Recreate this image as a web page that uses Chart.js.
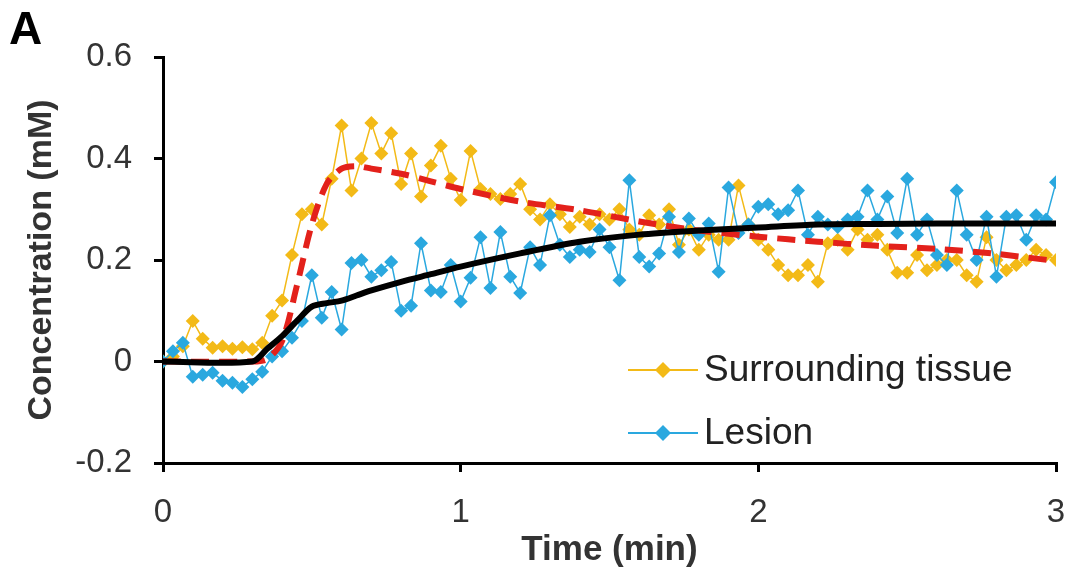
<!DOCTYPE html>
<html>
<head>
<meta charset="utf-8">
<script src="https://cdn.jsdelivr.net/npm/chart.js@4.4.1/dist/chart.umd.min.js"></script>
<style>
  body { margin: 0; background: #fff; }
  #wrap { position: relative; width: 1067px; height: 572px; }
</style>
</head>
<body>
<div id="wrap"><canvas id="concChart"></canvas></div>
<script>
// Sampling times (min), one sample every 2 s
const sampleTimes = Array.from({ length: 91 }, (_, i) => i / 30)

const surroundingValues = [
  0, 0.01, 0.03, 0.08, 0.045, 0.027, 0.03, 0.025, 0.028, 0.024,
  0.037, 0.09, 0.12, 0.21, 0.29, 0.30, 0.27, 0.36, 0.465, 0.337,
  0.40, 0.47, 0.41, 0.45, 0.35, 0.41, 0.325, 0.386, 0.425, 0.36,
  0.318, 0.415, 0.34, 0.33, 0.32, 0.33, 0.35, 0.30, 0.28, 0.31,
  0.29, 0.265, 0.285, 0.27, 0.29, 0.28, 0.30, 0.26, 0.25, 0.288,
  0.27, 0.30, 0.23, 0.26, 0.22, 0.25, 0.24, 0.24, 0.347, 0.27,
  0.24, 0.22, 0.19, 0.17, 0.17, 0.19, 0.157, 0.233, 0.24, 0.22,
  0.26, 0.24, 0.25, 0.22, 0.175, 0.175, 0.21, 0.18, 0.19, 0.20,
  0.20, 0.17, 0.157, 0.245, 0.20, 0.18, 0.19, 0.20, 0.22, 0.21,
  0.20
]
const lesionValues = [
  0, 0.02, 0.037, -0.03, -0.026, -0.022, -0.038, -0.042, -0.05, -0.035,
  -0.02, 0.01, 0.02, 0.047, 0.08, 0.17, 0.086, 0.137, 0.063, 0.194,
  0.20, 0.167, 0.18, 0.196, 0.10, 0.11, 0.233, 0.14, 0.137, 0.19,
  0.118, 0.165, 0.245, 0.145, 0.255, 0.167, 0.135, 0.225, 0.19, 0.288,
  0.23, 0.206, 0.22, 0.216, 0.26, 0.225, 0.16, 0.357, 0.206, 0.187,
  0.213, 0.285, 0.216, 0.282, 0.25, 0.272, 0.177, 0.343, 0.253, 0.27,
  0.305, 0.31, 0.29, 0.298, 0.337, 0.25, 0.285, 0.27, 0.265, 0.28,
  0.285, 0.337, 0.28, 0.325, 0.253, 0.36, 0.25, 0.28, 0.21, 0.19,
  0.337, 0.25, 0.20, 0.285, 0.167, 0.285, 0.288, 0.24, 0.288, 0.28,
  0.353
]

// Model fits
const fitTimes = [0, 0.3, 0.35, 0.4, 0.45, 0.5, 0.55, 0.6, 0.65, 0.7, 0.8, 0.9, 1.0, 1.2, 1.4, 1.6, 1.8, 2.0, 2.2, 2.4, 2.6, 2.8, 3.0]
const surroundingFit = [0, 0, 0.005, 0.04, 0.15, 0.27, 0.35, 0.38, 0.385, 0.38, 0.37, 0.355, 0.34, 0.315, 0.298, 0.276, 0.258, 0.246, 0.236, 0.228, 0.222, 0.212, 0.198]
const lesionFit = [0, 0, 0.025, 0.05, 0.08, 0.108, 0.115, 0.12, 0.13, 0.14, 0.157, 0.172, 0.187, 0.213, 0.236, 0.25, 0.258, 0.264, 0.27, 0.271, 0.272, 0.272, 0.272]

// Tick labels
const xTicks = [0, 1, 2, 3]
const yTicks = [-0.2, 0, 0.2, 0.4, 0.6]

const orange = "#F3BA17"
const blue = "#2AA8DF"

function toPoints(xs, ys) {
  return xs.map((x, i) => ({ x: x, y: ys[i] }))
}

// Legend inside the plot + panel letter
const extrasPlugin = {
  id: "extras",
  afterDraw(chart) {
    const ctx = chart.ctx
    ctx.save()
    ctx.fillStyle = "#000"
    ctx.font = "bold 46px 'Liberation Sans', Arial, sans-serif"
    ctx.textBaseline = "top"
    ctx.fillText("A", 9, 8)

    const rows = [
      { label: "Surrounding tissue", color: orange, y: 370 },
      { label: "Lesion", color: blue, y: 433 },
    ]
    rows.forEach((r) => {
      ctx.strokeStyle = r.color
      ctx.lineWidth = 2
      ctx.beginPath()
      ctx.moveTo(628, r.y)
      ctx.lineTo(698, r.y)
      ctx.stroke()
      ctx.fillStyle = r.color
      ctx.beginPath()
      ctx.moveTo(663, r.y - 8)
      ctx.lineTo(671, r.y)
      ctx.lineTo(663, r.y + 8)
      ctx.lineTo(655, r.y)
      ctx.closePath()
      ctx.fill()
      ctx.fillStyle = "#222"
      ctx.font = "37px 'Liberation Sans', Arial, sans-serif"
      ctx.textBaseline = "middle"
      ctx.fillText(r.label, 704, r.y + 1)
    })
    ctx.restore()
  },
}

new Chart(document.getElementById("concChart"), {
  type: "line",
  data: {
    datasets: [
      {
        label: "Lesion fit",
        data: toPoints(fitTimes, lesionFit),
        borderColor: "#000",
        borderWidth: 6,
        pointRadius: 0,
        tension: 0.3,
        order: 0,
      },
      {
        label: "Surrounding fit",
        data: toPoints(fitTimes, surroundingFit),
        borderColor: "#E3211B",
        borderWidth: 6,
        borderDash: [18, 10],
        pointRadius: 0,
        tension: 0.3,
        order: 1,
      },
      {
        label: "Lesion",
        data: toPoints(sampleTimes, lesionValues),
        borderColor: blue,
        backgroundColor: blue,
        borderWidth: 1.5,
        pointStyle: "rectRot",
        pointRadius: 7,
        pointBorderWidth: 0,
        order: 2,
      },
      {
        label: "Surrounding tissue",
        data: toPoints(sampleTimes, surroundingValues),
        borderColor: orange,
        backgroundColor: orange,
        borderWidth: 1.5,
        pointStyle: "rectRot",
        pointRadius: 7,
        pointBorderWidth: 0,
        order: 3,
      },
    ],
  },
  options: {
    responsive: true,
    maintainAspectRatio: false,
    animation: false,
    layout: { padding: { top: 57, right: 11, left: 0, bottom: 0 } },
    plugins: {
      legend: { display: false },
      tooltip: { enabled: false },
    },
    scales: {
      x: {
        type: "linear",
        min: 0,
        max: 3,
        afterBuildTicks: (scale) => {
          scale.ticks = xTicks.map((v) => ({ value: v }))
        },
        afterFit: (scale) => {
          scale.height = 109
          scale.paddingLeft = 0
          scale.paddingRight = 0
        },
        ticks: {
          color: "#333",
          font: { size: 33, family: "'Liberation Sans', Arial, sans-serif" },
          padding: 21,
          maxRotation: 0,
        },
        grid: {
          drawOnChartArea: false,
          drawTicks: true,
          tickLength: 9,
          color: "#000",
          lineWidth: 3,
        },
        border: { display: true, color: "#000", width: 3 },
        title: {
          display: true,
          text: "Time (min)",
          color: "#333",
          font: { size: 35, weight: "bold", family: "'Liberation Sans', Arial, sans-serif" },
          padding: { top: 0, bottom: 1 },
        },
      },
      y: {
        min: -0.2,
        max: 0.6,
        afterBuildTicks: (scale) => {
          scale.ticks = yTicks.map((v) => ({ value: v }))
        },
        afterFit: (scale) => {
          scale.width = 163
        },
        ticks: {
          color: "#333",
          font: { size: 33, family: "'Liberation Sans', Arial, sans-serif" },
          padding: 22,
          callback: (v) => String(Math.round(v * 10) / 10),
        },
        grid: {
          drawOnChartArea: false,
          drawTicks: true,
          tickLength: 9,
          color: "#000",
          lineWidth: 3,
        },
        border: { display: true, color: "#000", width: 3 },
        title: {
          display: true,
          text: "Concentration (mM)",
          color: "#333",
          font: { size: 34, weight: "bold", family: "'Liberation Sans', Arial, sans-serif" },
          padding: { top: 21, bottom: 0 },
        },
      },
    },
  },
  plugins: [extrasPlugin],
})
</script>
</body>
</html>
